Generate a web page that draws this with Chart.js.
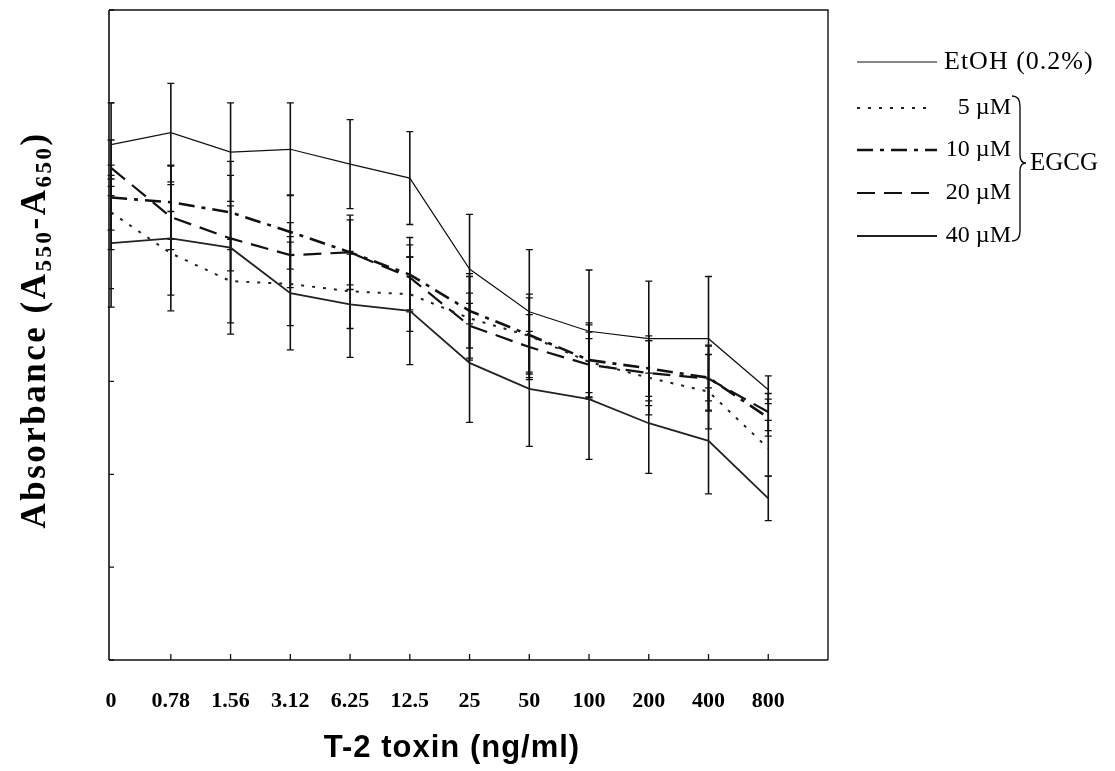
<!DOCTYPE html>
<html>
<head>
<meta charset="utf-8">
<script src="https://cdn.jsdelivr.net/npm/chart.js@4.4.1/dist/chart.umd.min.js"></script>
<style>
  html, body { margin: 0; padding: 0; background: #fff; }
  #wrap { width: 1115px; height: 771px; }
</style>
</head>
<body>
<div id="wrap"><canvas id="chart" width="1115" height="771"></canvas></div>
<script>
const categories = ["0", "0.78", "1.56", "3.12", "6.25", "12.5", "25", "50", "100", "200", "400", "800"];

// mean absorbance
const etoh  = [0.555, 0.568, 0.547, 0.550, 0.534, 0.519, 0.421, 0.375, 0.354, 0.346, 0.346, 0.291];
const egcg5  = [0.482, 0.438, 0.408, 0.405, 0.397, 0.394, 0.368, 0.349, 0.321, 0.304, 0.289, 0.228];
const egcg10 = [0.498, 0.493, 0.482, 0.461, 0.439, 0.415, 0.376, 0.350, 0.323, 0.314, 0.304, 0.261];
const egcg20 = [0.530, 0.477, 0.454, 0.436, 0.439, 0.412, 0.360, 0.337, 0.318, 0.309, 0.303, 0.267];
const egcg40 = [0.449, 0.454, 0.444, 0.395, 0.383, 0.376, 0.320, 0.292, 0.281, 0.255, 0.236, 0.174];

// error bars (SD)
const etohErr   = [0.045, 0.053, 0.053, 0.050, 0.048, 0.050, 0.059, 0.067, 0.066, 0.062, 0.067, 0.015];
const egcg5Err  = [0.040, 0.045, 0.045, 0.045, 0.040, 0.040, 0.045, 0.045, 0.040, 0.040, 0.040, 0.030];
const egcg10Err = [0.035, 0.040, 0.040, 0.040, 0.040, 0.040, 0.040, 0.040, 0.040, 0.035, 0.035, 0.020];
const egcg20Err = [0.030, 0.035, 0.035, 0.035, 0.035, 0.035, 0.035, 0.035, 0.035, 0.035, 0.035, 0.020];
const egcg40Err = [0.069, 0.078, 0.093, 0.061, 0.057, 0.058, 0.064, 0.062, 0.065, 0.054, 0.057, 0.024];

const yTicks = [0, 0.1, 0.2, 0.3, 0.4, 0.5, 0.6, 0.7];

const toPoints = vals => vals.map((v, i) => ({ x: i, y: v }));

const serif = "'Liberation Serif', 'Times New Roman', serif";
const sans = "'Liberation Sans', Arial, sans-serif";

function makeSet(label, vals, errs, width, dash, color) {
    return {
        label: label,
        data: toPoints(vals),
        errors: errs,
        borderColor: color,
        borderWidth: width,
        borderDash: dash,
        pointRadius: 0,
        fill: false,
        tension: 0
    };
}

const datasets = [
    makeSet("EtOH (0.2%)", etoh, etohErr, 1.2, [], "#111"),
    makeSet("5 µM", egcg5, egcg5Err, 2, [3, 8], "#222"),
    makeSet("10 µM", egcg10, egcg10Err, 2.6, [16, 7, 4, 7], "#111"),
    makeSet("20 µM", egcg20, egcg20Err, 2.2, [18, 9], "#111"),
    makeSet("40 µM", egcg40, egcg40Err, 1.8, [], "#222")
];

const errorBars = {
    id: "errorBars",
    beforeDatasetsDraw(chart) {
        const ctx = chart.ctx;
        const xs = chart.scales.x, ys = chart.scales.y;
        ctx.save();
        ctx.strokeStyle = "#111";
        chart.data.datasets.forEach(ds => {
            ds.data.forEach((p, i) => {
                const e = ds.errors[i];
                const x = xs.getPixelForValue(p.x);
                const top = ys.getPixelForValue(p.y + e);
                const bot = ys.getPixelForValue(p.y - e);
                ctx.lineWidth = 1.6;
                ctx.beginPath();
                ctx.moveTo(x, top);
                ctx.lineTo(x, bot);
                ctx.stroke();
                ctx.lineWidth = 1.3;
                ctx.beginPath();
                ctx.moveTo(x - 3.5, top); ctx.lineTo(x + 3.5, top);
                ctx.moveTo(x - 3.5, bot); ctx.lineTo(x + 3.5, bot);
                ctx.stroke();
            });
        });
        ctx.restore();
    }
};

const frame = {
    id: "frame",
    afterDraw(chart) {
        const ctx = chart.ctx;
        const a = chart.chartArea;
        const xs = chart.scales.x, ys = chart.scales.y;
        ctx.save();
        ctx.strokeStyle = "#111";
        // box
        ctx.lineWidth = 1.6;
        ctx.beginPath();
        ctx.moveTo(a.left, a.bottom); ctx.lineTo(a.right, a.bottom);
        ctx.moveTo(a.left, a.top); ctx.lineTo(a.left, a.bottom);
        ctx.stroke();
        ctx.lineWidth = 1.4;
        ctx.beginPath();
        ctx.moveTo(a.left, a.top); ctx.lineTo(a.right, a.top);
        ctx.lineTo(a.right, a.bottom);
        ctx.stroke();
        // inward ticks
        ctx.lineWidth = 1.3;
        ctx.beginPath();
        yTicks.forEach(v => {
            const y = ys.getPixelForValue(v);
            ctx.moveTo(a.left, y); ctx.lineTo(a.left + 5, y);
        });
        categories.forEach((c, i) => {
            if (i === 0) return;
            const x = xs.getPixelForValue(i);
            ctx.moveTo(x, a.bottom); ctx.lineTo(x, a.bottom - 6);
        });
        ctx.stroke();

        // y title with subscripts
        ctx.fillStyle = "#000";
        ctx.translate(36, 330);
        ctx.rotate(-Math.PI / 2);
        ctx.letterSpacing = "2.5px";
        const big = "bold 35px " + serif, small = "bold 23px " + serif;
        const parts = [["Absorbance (A", big, 0], ["550", small, 9], ["-A", big, 0], ["650", small, 9], [")", big, 0]];
        let total = 0;
        parts.forEach(p => { ctx.font = p[1]; total += ctx.measureText(p[0]).width; });
        let cx = -total / 2;
        ctx.textBaseline = "middle";
        ctx.textAlign = "left";
        parts.forEach(p => {
            ctx.font = p[1];
            ctx.fillText(p[0], cx, p[2]);
            cx += ctx.measureText(p[0]).width;
        });
        ctx.restore();

        // x title
        ctx.save();
        ctx.fillStyle = "#000";
        ctx.font = "bold 31px " + sans;
        ctx.letterSpacing = "1px";
        ctx.textAlign = "center";
        ctx.textBaseline = "middle";
        ctx.fillText("T-2 toxin (ng/ml)", 452, 748);
        ctx.restore();

        // legend
        ctx.save();
        const lx0 = 857, lx1 = 937;
        const rows = [62, 108, 150, 193, 236];
        ctx.fillStyle = "#000";
        ctx.textBaseline = "middle";
        chart.data.datasets.forEach((ds, i) => {
            const y = rows[i];
            ctx.strokeStyle = ds.borderColor;
            ctx.lineWidth = ds.borderWidth;
            ctx.setLineDash(ds.borderDash);
            ctx.beginPath();
            ctx.moveTo(lx0, y); ctx.lineTo(i === 1 ? lx1 - 8 : lx1, y);
            ctx.stroke();
            ctx.setLineDash([]);
            if (i === 0) {
                ctx.font = "26px " + serif;
                ctx.letterSpacing = "1px";
                ctx.textAlign = "left";
                ctx.fillText(ds.label, 944, y);
                ctx.letterSpacing = "0px";
            } else {
                ctx.font = "24px " + serif;
                ctx.textAlign = "right";
                ctx.fillText(ds.label, 1011, y);
            }
        });
        // brace
        ctx.strokeStyle = "#111";
        ctx.lineWidth = 1.4;
        const bx = 1012, bt = 96, bb = 241, bm = 163;
        ctx.beginPath();
        ctx.moveTo(bx, bt);
        ctx.quadraticCurveTo(bx + 8, bt, bx + 8, bt + 10);
        ctx.lineTo(bx + 8, bm - 8);
        ctx.quadraticCurveTo(bx + 8, bm, bx + 14, bm);
        ctx.quadraticCurveTo(bx + 8, bm, bx + 8, bm + 8);
        ctx.lineTo(bx + 8, bb - 10);
        ctx.quadraticCurveTo(bx + 8, bb, bx, bb);
        ctx.stroke();
        ctx.font = "25px " + serif;
        ctx.textAlign = "left";
        ctx.fillText("EGCG", 1030, bm);
        ctx.restore();
    }
};

new Chart(document.getElementById("chart"), {
    type: "line",
    data: { datasets: datasets },
    plugins: [errorBars, frame],
    options: {
        responsive: false,
        animation: false,
        layout: { padding: { left: 0, top: 10, right: 287, bottom: 0 } },
        plugins: { legend: { display: false }, tooltip: { enabled: false } },
        scales: {
            x: {
                type: "linear",
                min: -0.035,
                max: 12.0,
                afterFit: s => { s.height = 111; },
                afterBuildTicks: s => { s.ticks = categories.map((c, i) => ({ value: i })); },
                border: { display: false },
                grid: { display: false },
                ticks: {
                    autoSkip: false,
                    maxRotation: 0,
                    padding: 20,
                    color: "#000",
                    font: { family: serif, size: 22, weight: "bold" },
                    callback: v => categories[v]
                }
            },
            y: {
                min: 0,
                max: 0.7,
                afterFit: s => { s.width = 109; },
                border: { display: false },
                grid: { display: false },
                ticks: { display: false }
            }
        }
    }
});
</script>
</body>
</html>
